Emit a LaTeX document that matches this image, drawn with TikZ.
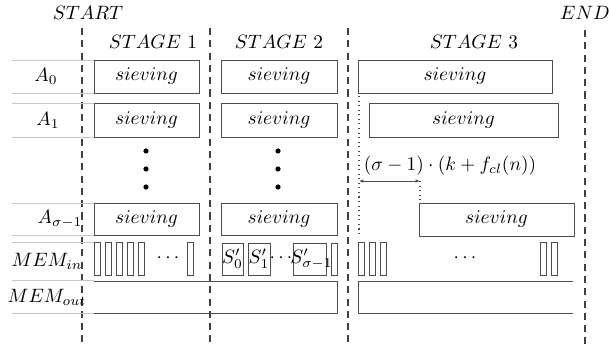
\documentclass[tikz,border=0pt]{standalone}
\usetikzlibrary{arrows.meta}
\usetikzlibrary{calc}

\begin{document}
\begin{tikzpicture}[x=0.02cm, y=-0.02cm,
      every node/.append style={scale=1.1},
      row/.style={draw=black!22, line width=0.5},
      sep/.style={draw=black!75, line width=0.6, dash pattern=on 4pt off 3pt},
      job/.style={draw=black!70, line width=0.5},
      slot/.style={draw=black!70, line width=0.5},
      tick/.style={draw=black!70, line width=0.6, dotted},
      label/.style={inner sep=0}
    ]
    \useasboundingbox (0,0) rectangle (609,347);

    % stage borders
    \node [label] (start) at (88, 13) {$START$};
    \node [label] (end) at (585, 13) {$END$};
    \coordinate (b0) at (82, 28);
    \coordinate (b1) at (210, 28);
    \coordinate (b2) at (348, 28);
    \coordinate (b3) at (585, 30);
    \draw[sep] (b0) -- (82, 347);
    \draw[sep] (b1) -- (210, 347);
    \draw[sep] (b2) -- (348, 347);
    \draw[sep] (b3) -- (585, 347);
    \node [label] (st1) at (153, 42) {$STAGE\ 1$};
    \node [label] (st2) at (279, 42) {$STAGE\ 2$};
    \node [label] (st3) at (474, 42) {$STAGE\ 3$};

    % row lines
    \foreach \y in {60, 93, 103, 137, 203, 235, 242, 280, 313}
        \draw[row] (12, \y) -- (94, \y);
    \node [label] (a0) at (46, 76) {$A_0$};
    \node [label] (a1) at (48, 120) {$A_1$};
    \node [label] (as) at (60, 219) {$A_{\sigma-1}$};
    \node [label] (mi) at (47, 261) {$MEM_{in}$};
    \node [label] (mo) at (47, 297) {$MEM_{out}$};

    % stage 1
    \draw[job] (94, 60) rectangle (199, 93) node[midway] (s10) {$sieving$};
    \draw[job] (94, 103) rectangle (199, 137) node[midway] (s11) {$sieving$};
    \draw[job] (94, 203) rectangle (199, 235) node[midway] (s1s) {$sieving$};
    \foreach \y in {151, 169, 187}
        \fill (146, \y) circle (2.6);
    \foreach \x in {94, 105, 116, 127, 138, 187}
        \draw[slot] (\x, 242) rectangle +(6.5, 33);
    \node [label] (d1) at (168, 258) {$\cdots$};

    % stage 2
    \draw[job] (221, 60) rectangle (337, 93) node[midway] (s20) {$sieving$};
    \draw[job] (221, 103) rectangle (337, 137) node[midway] (s21) {$sieving$};
    \draw[job] (221, 203) rectangle (337, 235) node[midway] (s2s) {$sieving$};
    \foreach \y in {151, 169, 187}
        \fill (278, \y) circle (2.6);
    \draw[slot] (222, 243) rectangle (243, 275) node[midway] (p0) {$S'_0$};
    \draw[slot] (248, 243) rectangle (270, 275) node[midway] (p1) {$S'_1$};
    \node [label] (d2) at (281, 258) {$\cdots$};
    \draw[slot] (293, 243) rectangle (326, 275) node[midway, xshift=1pt] (ps) {$S'_{\sigma-1}$};
    \draw[slot] (331, 243) rectangle (337, 275);
    \draw[job] (94, 281) -- (337, 281) -- (337, 313) -- (94, 313);

    % stage 3
    \draw[job] (358, 60) rectangle (552, 93) node[midway] (s30) {$sieving$};
    \draw[job] (369, 103) rectangle (558, 137) node[midway] (s31) {$sieving$};
    \draw[job] (419, 203) rectangle (574, 236) node[midway] (s3s) {$sieving$};
    \coordinate (w0) at (359, 181);
    \coordinate (w1) at (420, 181);
    \draw[tick] (359, 96) -- (359, 236);
    \draw[tick] (w1) -- (420, 203);
    \draw[job, {Latex[length=2.5pt, width=2pt]}-{Latex[length=2.5pt, width=2pt]}] (w0) -- (w1);
    \node [label] (cost) at (450, 166) {$(\sigma-1)\cdot(k+f_{cl}(n))$};
    \foreach \x in {358, 369, 380, 540, 551}
        \draw[slot] (\x, 242) rectangle +(6.5, 33);
    \node [label] (d3) at (465, 258) {$\cdots$};
    \draw[job] (573, 281) -- (358, 281) -- (358, 313) -- (573, 313);

\end{tikzpicture}
\end{document}
